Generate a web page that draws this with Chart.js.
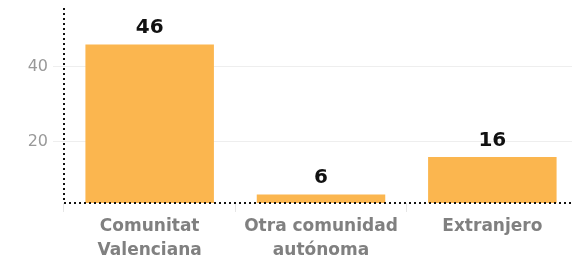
<!DOCTYPE html>
<html>
<head>
<meta charset="utf-8">
<script src="https://cdn.jsdelivr.net/npm/chart.js@4/dist/chart.umd.min.js"></script>
<style>
  html, body { margin: 0; padding: 0; background: #fff; overflow: hidden; }
  #wrap { width: 572px; height: 255px; overflow: hidden; }
</style>
</head>
<body>
<div id="wrap"><canvas id="myChart" width="578" height="255"></canvas></div>
<script>
'use strict';

// Chart data
const categories = [['Comunitat', 'Valenciana'], ['Otra comunidad', 'autónoma'], 'Extranjero'];
const values = [46, 6, 16];
const yTicks = [20, 40];

const FONT = '"DejaVu Sans", Verdana, sans-serif';

// Draws the value above each bar
const barLabels = {
    id: 'barLabels',
    afterDatasetsDraw(chart) {
        const ctx = chart.ctx;
        const meta = chart.getDatasetMeta(0);
        ctx.save();
        ctx.font = 'bold 20px ' + FONT;
        ctx.fillStyle = '#111';
        ctx.textAlign = 'center';
        ctx.textBaseline = 'alphabetic';
        meta.data.forEach((bar, i) => {
            ctx.fillText(String(values[i]), bar.x, bar.y - 11);
        });
        ctx.restore();
    }
};

// Dotted left and bottom axis lines
const dottedAxes = {
    id: 'dottedAxes',
    afterDraw(chart) {
        const ctx = chart.ctx;
        const a = chart.chartArea;
        ctx.save();
        ctx.strokeStyle = '#111';
        ctx.lineWidth = 2;
        ctx.setLineDash([2, 3]);
        ctx.beginPath();
        ctx.moveTo(a.left, a.top);
        ctx.lineTo(a.left, a.bottom);
        ctx.moveTo(a.left, a.bottom);
        ctx.lineTo(a.right, a.bottom);
        ctx.stroke();
        ctx.restore();
    }
};

const ctx = document.getElementById('myChart').getContext('2d');
new Chart(ctx, {
    type: 'bar',
    data: {
        labels: categories,
        datasets: [{
            data: values,
            backgroundColor: '#fbb64f',
            borderWidth: 0,
            barPercentage: 0.75,
            categoryPercentage: 1
        }]
    },
    options: {
        responsive: false,
        animation: false,
        layout: { padding: { top: 8, right: 0, left: 0, bottom: 0 } },
        plugins: {
            legend: { display: false },
            tooltip: { enabled: false }
        },
        scales: {
            x: {
                afterFit(scale) { scale.height = 52; },
                grid: {
                    display: true,
                    drawOnChartArea: false,
                    drawTicks: true,
                    tickLength: 9,
                    color: '#e6e6e6',
                    offset: true
                },
                border: { display: false },
                ticks: {
                    color: '#808080',
                    font: { family: FONT, size: 17, weight: 'bold', lineHeight: 1.45 },
                    padding: 2,
                    maxRotation: 0
                }
            },
            y: {
                min: 3.7,
                max: 55.7,
                afterFit(scale) {
                    scale.width = 64;
                    scale.paddingTop = 0;
                    scale.paddingBottom = 0;
                },
                afterBuildTicks(scale) { scale.ticks = yTicks.map(v => ({ value: v })); },
                grid: {
                    color: '#eeeeee',
                    tickLength: 11,
                    drawTicks: true
                },
                border: { display: false },
                ticks: {
                    color: '#999',
                    font: { family: FONT, size: 16 },
                    padding: 5
                }
            }
        }
    },
    plugins: [barLabels, dottedAxes]
});
</script>
</body>
</html>
